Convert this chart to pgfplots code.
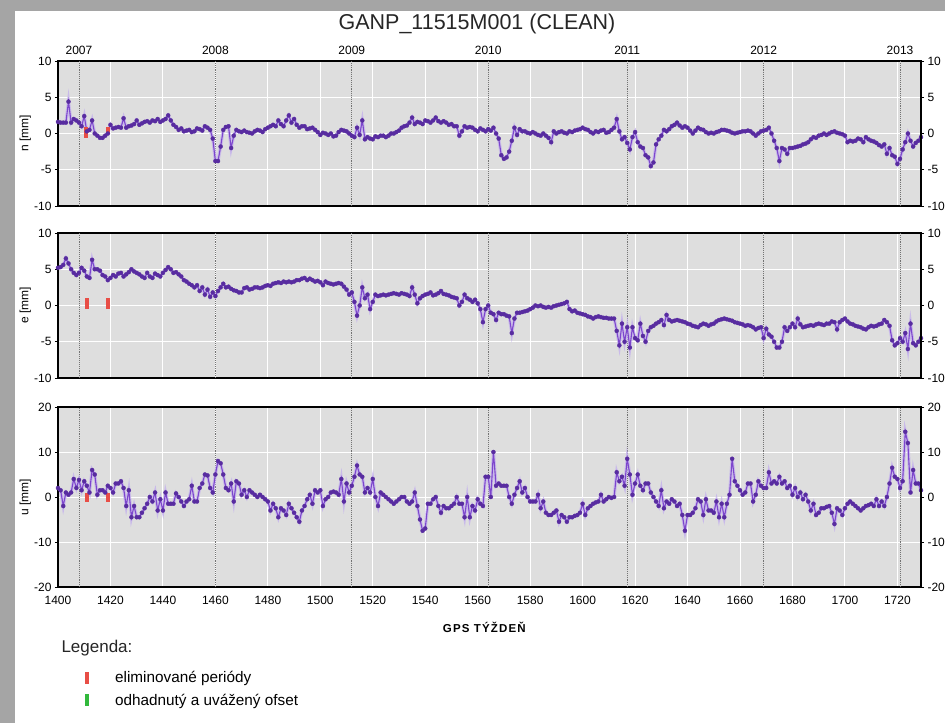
\documentclass[border=0pt]{standalone}
\usepackage{pgfplots}
\usepackage{pgfplotstable}
\pgfplotsset{compat=1.18}
\usepackage{fontspec}
\setmainfont{Liberation Sans}
\definecolor{panelbg}{RGB}{222,222,222}
\definecolor{ln}{RGB}{125,70,205}
\definecolor{mk}{RGB}{88,44,160}
\definecolor{halocol}{RGB}{195,175,238}
\definecolor{elim}{RGB}{232,78,70}
\definecolor{ofs}{RGB}{50,185,60}
\definecolor{framegray}{RGB}{165,165,165}

\pgfplotstableread[row sep=\\]{
x y \\
1400 1.6 \\ 1401 1.5 \\ 1402 1.5 \\ 1403 1.5 \\ 1404 4.4 \\ 1405 1.5 \\ 1406 2.0 \\ 1407 1.8 \\ 1408 1.5 \\ 1409 1.0 \\
1410 2.4 \\ 1411 0.3 \\ 1412 0.5 \\ 1413 1.8 \\ 1414 0 \\ 1415 -0.3 \\ 1416 -0.6 \\ 1417 -0.6 \\ 1418 -0.3 \\ 1419 0 \\
1420 1.2 \\ 1421 0.7 \\ 1422 0.8 \\ 1423 0.9 \\ 1424 0.8 \\ 1425 2.1 \\ 1426 0.8 \\ 1427 1.0 \\ 1428 1.1 \\ 1429 1.3 \\
1430 1.8 \\ 1431 1.2 \\ 1432 1.4 \\ 1433 1.6 \\ 1434 1.7 \\ 1435 1.5 \\ 1436 1.8 \\ 1437 1.7 \\ 1438 2.0 \\ 1439 1.6 \\
1440 1.8 \\ 1441 2.0 \\ 1442 2.5 \\ 1443 1.8 \\ 1444 1.2 \\ 1445 0.9 \\ 1446 0.5 \\ 1447 0.7 \\ 1448 0.3 \\ 1449 0.4 \\
1450 0.5 \\ 1451 0.2 \\ 1452 0.3 \\ 1453 0.7 \\ 1454 0.6 \\ 1455 0.4 \\ 1456 1.0 \\ 1457 0.8 \\ 1458 0.5 \\ 1459 -0.7 \\
1460 -3.8 \\ 1461 -3.8 \\ 1462 -1.8 \\ 1463 0.5 \\ 1464 0.9 \\ 1465 1.0 \\ 1466 -2.0 \\ 1467 -0.3 \\ 1468 0.5 \\ 1469 0.3 \\
1470 0.2 \\ 1471 0.4 \\ 1472 0.2 \\ 1473 0.1 \\ 1474 0 \\ 1475 0.3 \\ 1476 0.5 \\ 1477 0.4 \\ 1478 0.2 \\ 1479 0.6 \\
1480 0.8 \\ 1481 1.0 \\ 1482 1.2 \\ 1483 1.0 \\ 1484 1.8 \\ 1485 1.3 \\ 1486 1.0 \\ 1487 1.8 \\ 1488 2.5 \\ 1489 1.5 \\
1490 2.0 \\ 1491 1.2 \\ 1492 0.8 \\ 1493 1.0 \\ 1494 1.0 \\ 1495 0.6 \\ 1496 0.7 \\ 1497 0.8 \\ 1498 0.5 \\ 1499 0.2 \\
1500 -0.2 \\ 1501 0.1 \\ 1502 0 \\ 1503 -0.2 \\ 1504 0 \\ 1505 -0.4 \\ 1506 -0.3 \\ 1507 0.2 \\ 1508 0.5 \\ 1509 0.4 \\
1510 0.3 \\ 1511 0.0 \\ 1512 -0.3 \\ 1513 -0.5 \\ 1514 0.8 \\ 1515 -0.2 \\ 1516 1.8 \\ 1517 -0.8 \\ 1518 -0.5 \\ 1519 -0.7 \\
1520 -0.8 \\ 1521 -0.4 \\ 1522 -0.5 \\ 1523 -0.3 \\ 1524 -0.3 \\ 1525 -0.5 \\ 1526 -0.3 \\ 1527 0 \\ 1528 0 \\ 1529 0.2 \\
1530 0.4 \\ 1531 0.8 \\ 1532 1.0 \\ 1533 1.1 \\ 1534 1.5 \\ 1535 2.2 \\ 1536 1.3 \\ 1537 1.6 \\ 1538 1.5 \\ 1539 1.3 \\
1540 1.8 \\ 1541 1.7 \\ 1542 1.5 \\ 1543 1.8 \\ 1544 2.2 \\ 1545 1.7 \\ 1546 1.5 \\ 1547 1.7 \\ 1548 1.5 \\ 1549 1.2 \\
1550 1.3 \\ 1551 1.0 \\ 1552 1.0 \\ 1553 -0.3 \\ 1554 0.3 \\ 1555 1.0 \\ 1556 0.8 \\ 1557 0.9 \\ 1558 0.8 \\ 1559 0.5 \\
1560 0.3 \\ 1561 0.7 \\ 1562 0.5 \\ 1563 0.3 \\ 1564 0.6 \\ 1565 0.4 \\ 1566 0.8 \\ 1567 0 \\ 1568 -0.7 \\ 1569 -3.0 \\
1570 -3.5 \\ 1571 -3.3 \\ 1572 -2.5 \\ 1573 -1.0 \\ 1574 0.8 \\ 1575 -0.2 \\ 1576 0.6 \\ 1577 0.3 \\ 1578 0.3 \\ 1579 0.1 \\
1580 0 \\ 1581 0.2 \\ 1582 0 \\ 1583 -0.2 \\ 1584 -0.3 \\ 1585 0 \\ 1586 -0.3 \\ 1587 -0.6 \\ 1588 -1.2 \\ 1589 0.3 \\
1590 0 \\ 1591 0.2 \\ 1592 0.3 \\ 1593 0.1 \\ 1594 0 \\ 1595 0.3 \\ 1596 0.2 \\ 1597 0.4 \\ 1598 0.5 \\ 1599 0.6 \\
1600 0.8 \\ 1601 0.6 \\ 1602 0.5 \\ 1603 0.2 \\ 1604 0 \\ 1605 0.3 \\ 1606 0.2 \\ 1607 0.4 \\ 1608 0.5 \\ 1609 0.1 \\
1610 0.2 \\ 1611 0.5 \\ 1612 0.8 \\ 1613 2.0 \\ 1614 0.3 \\ 1615 -0.8 \\ 1616 -0.5 \\ 1617 -1.3 \\ 1618 -2.2 \\ 1619 -0.5 \\
1620 0.2 \\ 1621 -1.2 \\ 1622 -1.8 \\ 1623 -2.0 \\ 1624 -3.0 \\ 1625 -3.3 \\ 1626 -4.5 \\ 1627 -4.0 \\ 1628 -1.5 \\ 1629 -0.8 \\
1630 -0.3 \\ 1631 0.5 \\ 1632 0.3 \\ 1633 0.6 \\ 1634 1.0 \\ 1635 1.2 \\ 1636 1.5 \\ 1637 1.1 \\ 1638 0.8 \\ 1639 1.0 \\
1640 0.8 \\ 1641 0.4 \\ 1642 0 \\ 1643 0.4 \\ 1644 0.8 \\ 1645 0.6 \\ 1646 0.5 \\ 1647 0.2 \\ 1648 0 \\ 1649 0.1 \\
1650 0 \\ 1651 0.2 \\ 1652 0.3 \\ 1653 0.5 \\ 1654 0.5 \\ 1655 0.4 \\ 1656 0.3 \\ 1657 0.1 \\ 1658 0 \\ 1659 0.1 \\
1660 0.2 \\ 1661 0.3 \\ 1662 0.3 \\ 1663 0.4 \\ 1664 0.3 \\ 1665 0 \\ 1666 -0.3 \\ 1667 0 \\ 1668 0.3 \\ 1669 0.4 \\
1670 0.5 \\ 1671 0.8 \\ 1672 0 \\ 1673 -1.0 \\ 1674 -2.0 \\ 1675 -3.8 \\ 1676 -2.0 \\ 1677 -2.2 \\ 1678 -2.8 \\ 1679 -2.0 \\
1680 -2.0 \\ 1681 -1.9 \\ 1682 -1.8 \\ 1683 -1.7 \\ 1684 -1.5 \\ 1685 -1.4 \\ 1686 -1.2 \\ 1687 -0.8 \\ 1688 -0.5 \\ 1689 -0.6 \\
1690 -0.3 \\ 1691 -0.2 \\ 1692 0 \\ 1693 -0.2 \\ 1694 0 \\ 1695 0.2 \\ 1696 0.3 \\ 1697 0.1 \\ 1698 0 \\ 1699 -0.1 \\
1700 -0.3 \\ 1701 -1.2 \\ 1702 -1.0 \\ 1703 -1.1 \\ 1704 -1.0 \\ 1705 -0.7 \\ 1706 -0.8 \\ 1707 -1.2 \\ 1708 -0.5 \\ 1709 -0.8 \\
1710 -1.0 \\ 1711 -1.1 \\ 1712 -1.3 \\ 1713 -1.6 \\ 1714 -1.8 \\ 1715 -1.5 \\ 1716 -2.8 \\ 1717 -2.0 \\ 1718 -3.0 \\ 1719 -3.2 \\
1720 -4.2 \\ 1721 -3.5 \\ 1722 -2.2 \\ 1723 -1.2 \\ 1724 0 \\ 1725 -1.0 \\ 1726 -1.8 \\ 1727 -1.3 \\ 1728 -1.0 \\ 1729 -0.5 \\
}\ndata

\pgfplotstableread[row sep=\\]{
x y \\
1400 5.2 \\ 1401 5.3 \\ 1402 5.6 \\ 1403 6.5 \\ 1404 5.8 \\ 1405 5.0 \\ 1406 4.5 \\ 1407 4.2 \\ 1408 4.5 \\ 1409 5.2 \\
1410 4.8 \\ 1411 4.0 \\ 1412 3.8 \\ 1413 6.3 \\ 1414 5.0 \\ 1415 5.0 \\ 1416 4.8 \\ 1417 4.2 \\ 1418 4.0 \\ 1419 3.5 \\
1420 3.8 \\ 1421 4.2 \\ 1422 4.0 \\ 1423 4.4 \\ 1424 4.5 \\ 1425 4.0 \\ 1426 4.3 \\ 1427 4.6 \\ 1428 5.0 \\ 1429 4.7 \\
1430 4.5 \\ 1431 4.3 \\ 1432 4.0 \\ 1433 3.8 \\ 1434 4.5 \\ 1435 4.0 \\ 1436 3.8 \\ 1437 4.4 \\ 1438 4.2 \\ 1439 4.0 \\
1440 4.5 \\ 1441 4.9 \\ 1442 5.3 \\ 1443 5.0 \\ 1444 4.5 \\ 1445 4.6 \\ 1446 4.3 \\ 1447 4.0 \\ 1448 3.5 \\ 1449 3.3 \\
1450 3.0 \\ 1451 2.8 \\ 1452 2.5 \\ 1453 2.8 \\ 1454 2.0 \\ 1455 2.5 \\ 1456 1.5 \\ 1457 2.2 \\ 1458 1.2 \\ 1459 1.8 \\
1460 1.3 \\ 1461 2.0 \\ 1462 2.5 \\ 1463 3.0 \\ 1464 2.5 \\ 1465 2.6 \\ 1466 2.3 \\ 1467 2.1 \\ 1468 2.0 \\ 1469 1.8 \\
1470 1.8 \\ 1471 2.4 \\ 1472 2.5 \\ 1473 2.2 \\ 1474 2.3 \\ 1475 2.5 \\ 1476 2.5 \\ 1477 2.4 \\ 1478 2.5 \\ 1479 2.7 \\
1480 2.8 \\ 1481 2.7 \\ 1482 3.0 \\ 1483 3.1 \\ 1484 3.2 \\ 1485 3.1 \\ 1486 3.3 \\ 1487 3.2 \\ 1488 3.3 \\ 1489 3.2 \\
1490 3.3 \\ 1491 3.5 \\ 1492 3.5 \\ 1493 3.7 \\ 1494 3.8 \\ 1495 3.5 \\ 1496 3.7 \\ 1497 3.5 \\ 1498 3.3 \\ 1499 3.4 \\
1500 3.2 \\ 1501 2.8 \\ 1502 3.3 \\ 1503 3.1 \\ 1504 3.0 \\ 1505 2.9 \\ 1506 3.0 \\ 1507 3.1 \\ 1508 3.0 \\ 1509 2.6 \\
1510 2.2 \\ 1511 1.5 \\ 1512 1.8 \\ 1513 0.5 \\ 1514 -1.4 \\ 1515 0 \\ 1516 2.5 \\ 1517 1.0 \\ 1518 1.5 \\ 1519 -0.5 \\
1520 0.5 \\ 1521 1.5 \\ 1522 1.3 \\ 1523 1.4 \\ 1524 1.5 \\ 1525 1.4 \\ 1526 1.5 \\ 1527 1.6 \\ 1528 1.7 \\ 1529 1.6 \\
1530 1.5 \\ 1531 1.7 \\ 1532 1.6 \\ 1533 1.5 \\ 1534 1.3 \\ 1535 2.5 \\ 1536 1.5 \\ 1537 0.3 \\ 1538 1.0 \\ 1539 1.3 \\
1540 1.5 \\ 1541 1.6 \\ 1542 1.8 \\ 1543 1.4 \\ 1544 1.5 \\ 1545 1.7 \\ 1546 2.0 \\ 1547 1.6 \\ 1548 1.5 \\ 1549 1.4 \\
1550 1.2 \\ 1551 1.1 \\ 1552 1.0 \\ 1553 0 \\ 1554 0.5 \\ 1555 1.5 \\ 1556 1.0 \\ 1557 0.8 \\ 1558 0.5 \\ 1559 0.8 \\
1560 0.3 \\ 1561 -0.5 \\ 1562 -2.3 \\ 1563 -0.5 \\ 1564 0 \\ 1565 -1.0 \\ 1566 -1.2 \\ 1567 -2.0 \\ 1568 -1.0 \\ 1569 -1.2 \\
1570 -1.2 \\ 1571 -1.4 \\ 1572 -1.5 \\ 1573 -3.8 \\ 1574 -1.8 \\ 1575 -1.0 \\ 1576 -1.0 \\ 1577 -0.9 \\ 1578 -0.8 \\ 1579 -0.7 \\
1580 -0.5 \\ 1581 -0.3 \\ 1582 0 \\ 1583 -0.1 \\ 1584 0 \\ 1585 -0.2 \\ 1586 -0.3 \\ 1587 -0.2 \\ 1588 -0.3 \\ 1589 -0.1 \\
1590 0 \\ 1591 0.1 \\ 1592 0.2 \\ 1593 0.3 \\ 1594 0.5 \\ 1595 -0.5 \\ 1596 -0.8 \\ 1597 -0.7 \\ 1598 -1.0 \\ 1599 -1.1 \\
1600 -1.2 \\ 1601 -1.3 \\ 1602 -1.5 \\ 1603 -1.6 \\ 1604 -1.8 \\ 1605 -1.6 \\ 1606 -1.5 \\ 1607 -1.6 \\ 1608 -1.7 \\ 1609 -1.7 \\
1610 -1.8 \\ 1611 -1.8 \\ 1612 -1.8 \\ 1613 -3.5 \\ 1614 -5.5 \\ 1615 -2.5 \\ 1616 -5.0 \\ 1617 -3.0 \\ 1618 -5.8 \\ 1619 -3.0 \\
1620 -4.5 \\ 1621 -4.8 \\ 1622 -2.5 \\ 1623 -4.2 \\ 1624 -5.0 \\ 1625 -3.5 \\ 1626 -3.0 \\ 1627 -2.8 \\ 1628 -2.5 \\ 1629 -2.3 \\
1630 -2.0 \\ 1631 -2.7 \\ 1632 -1.3 \\ 1633 -2.0 \\ 1634 -2.2 \\ 1635 -2.1 \\ 1636 -2.0 \\ 1637 -2.1 \\ 1638 -2.2 \\ 1639 -2.3 \\
1640 -2.5 \\ 1641 -2.6 \\ 1642 -2.8 \\ 1643 -2.9 \\ 1644 -3.0 \\ 1645 -2.7 \\ 1646 -2.5 \\ 1647 -2.6 \\ 1648 -2.8 \\ 1649 -2.6 \\
1650 -2.5 \\ 1651 -2.2 \\ 1652 -2.0 \\ 1653 -1.9 \\ 1654 -1.8 \\ 1655 -1.9 \\ 1656 -2.0 \\ 1657 -2.1 \\ 1658 -2.3 \\ 1659 -2.4 \\
1660 -2.5 \\ 1661 -2.6 \\ 1662 -2.8 \\ 1663 -2.7 \\ 1664 -2.8 \\ 1665 -3.0 \\ 1666 -3.3 \\ 1667 -3.1 \\ 1668 -3.0 \\ 1669 -4.5 \\
1670 -3.2 \\ 1671 -4.0 \\ 1672 -4.3 \\ 1673 -5.0 \\ 1674 -5.8 \\ 1675 -5.8 \\ 1676 -5.0 \\ 1677 -3.0 \\ 1678 -3.5 \\ 1679 -3.0 \\
1680 -2.5 \\ 1681 -3.0 \\ 1682 -1.8 \\ 1683 -2.6 \\ 1684 -3.0 \\ 1685 -2.9 \\ 1686 -2.8 \\ 1687 -2.7 \\ 1688 -2.8 \\ 1689 -2.6 \\
1690 -2.5 \\ 1691 -2.6 \\ 1692 -2.7 \\ 1693 -2.5 \\ 1694 -2.5 \\ 1695 -2.2 \\ 1696 -2.3 \\ 1697 -3.3 \\ 1698 -2.3 \\ 1699 -2.0 \\
1700 -1.8 \\ 1701 -2.2 \\ 1702 -2.5 \\ 1703 -2.6 \\ 1704 -2.8 \\ 1705 -2.9 \\ 1706 -3.0 \\ 1707 -3.2 \\ 1708 -3.3 \\ 1709 -3.0 \\
1710 -2.8 \\ 1711 -2.9 \\ 1712 -2.8 \\ 1713 -2.6 \\ 1714 -2.5 \\ 1715 -2.0 \\ 1716 -2.3 \\ 1717 -2.8 \\ 1718 -4.8 \\ 1719 -5.5 \\
1720 -5.2 \\ 1721 -4.5 \\ 1722 -5.0 \\ 1723 -3.8 \\ 1724 -6.0 \\ 1725 -2.5 \\ 1726 -5.2 \\ 1727 -5.5 \\ 1728 -5.0 \\ 1729 -4.5 \\
}\edata

\pgfplotstableread[row sep=\\]{
x y \\
1400 2.0 \\ 1401 1.5 \\ 1402 -2.0 \\ 1403 1.0 \\ 1404 0.5 \\ 1405 1.0 \\ 1406 4.0 \\ 1407 2.0 \\ 1408 3.8 \\ 1409 1.5 \\
1410 3.5 \\ 1411 2.5 \\ 1412 1.0 \\ 1413 6.0 \\ 1414 5.0 \\ 1415 0.5 \\ 1416 1.5 \\ 1417 1.5 \\ 1418 1.0 \\ 1419 2.5 \\
1420 2.0 \\ 1421 1.0 \\ 1422 3.0 \\ 1423 3.0 \\ 1424 3.5 \\ 1425 2.0 \\ 1426 -2.0 \\ 1427 1.5 \\ 1428 -4.5 \\ 1429 -2.0 \\
1430 -4.5 \\ 1431 -4.5 \\ 1432 -3.5 \\ 1433 -2.5 \\ 1434 -1.5 \\ 1435 0 \\ 1436 -1.0 \\ 1437 1.0 \\ 1438 -3.0 \\ 1439 -0.5 \\
1440 -3.0 \\ 1441 1.0 \\ 1442 -1.5 \\ 1443 -1.5 \\ 1444 -1.5 \\ 1445 0.8 \\ 1446 0 \\ 1447 -1.0 \\ 1448 -2.0 \\ 1449 -1.0 \\
1450 -0.5 \\ 1451 2.5 \\ 1452 -1.0 \\ 1453 -1.0 \\ 1454 2.0 \\ 1455 3.0 \\ 1456 5.0 \\ 1457 4.8 \\ 1458 2.0 \\ 1459 1.0 \\
1460 5.0 \\ 1461 8.0 \\ 1462 7.5 \\ 1463 5.0 \\ 1464 2.0 \\ 1465 1.5 \\ 1466 3.0 \\ 1467 -1.0 \\ 1468 3.5 \\ 1469 3.0 \\
1470 0.5 \\ 1471 1.5 \\ 1472 0.0 \\ 1473 1.5 \\ 1474 1.0 \\ 1475 0.5 \\ 1476 0 \\ 1477 0.5 \\ 1478 0 \\ 1479 -0.5 \\
1480 -1.0 \\ 1481 -3.0 \\ 1482 -1.5 \\ 1483 -2.5 \\ 1484 -4.5 \\ 1485 -2.5 \\ 1486 -3.0 \\ 1487 -4.0 \\ 1488 -1.5 \\ 1489 -2.5 \\
1490 -3.5 \\ 1491 -4.5 \\ 1492 -5.5 \\ 1493 -3.0 \\ 1494 -2.0 \\ 1495 -0.5 \\ 1496 0.5 \\ 1497 -1.5 \\ 1498 1.5 \\ 1499 1.0 \\
1500 1.5 \\ 1501 -2.0 \\ 1502 -0.5 \\ 1503 0 \\ 1504 1.0 \\ 1505 1.2 \\ 1506 1.0 \\ 1507 0.5 \\ 1508 4.0 \\ 1509 -1.0 \\
1510 3.0 \\ 1511 1.0 \\ 1512 2.5 \\ 1513 4.5 \\ 1514 7.0 \\ 1515 5.0 \\ 1516 4.5 \\ 1517 1.0 \\ 1518 2.0 \\ 1519 1.0 \\
1520 4.0 \\ 1521 0 \\ 1522 -2.0 \\ 1523 1.0 \\ 1524 0.5 \\ 1525 0 \\ 1526 -0.5 \\ 1527 -1.0 \\ 1528 -1.5 \\ 1529 -1.0 \\
1530 -0.5 \\ 1531 0 \\ 1532 0 \\ 1533 -1.0 \\ 1534 -1.5 \\ 1535 -1.0 \\ 1536 1.0 \\ 1537 -2.0 \\ 1538 -5.0 \\ 1539 -7.5 \\
1540 -7.0 \\ 1541 -1.5 \\ 1542 -1.5 \\ 1543 -0.5 \\ 1544 0 \\ 1545 -2.0 \\ 1546 -3.5 \\ 1547 -2.0 \\ 1548 -2.5 \\ 1549 -2.5 \\
1550 -2.0 \\ 1551 -1.5 \\ 1552 0 \\ 1553 -1.5 \\ 1554 -1.5 \\ 1555 -4.5 \\ 1556 0 \\ 1557 -4.5 \\ 1558 -2.0 \\ 1559 -3.0 \\
1560 -0.5 \\ 1561 -1.5 \\ 1562 -2.0 \\ 1563 4.5 \\ 1564 4.5 \\ 1565 0 \\ 1566 10.0 \\ 1567 2.5 \\ 1568 3.0 \\ 1569 2.5 \\
1570 2.5 \\ 1571 2.5 \\ 1572 0 \\ 1573 -1.5 \\ 1574 0.5 \\ 1575 2.0 \\ 1576 3.5 \\ 1577 1.0 \\ 1578 2.0 \\ 1579 0 \\
1580 -1.0 \\ 1581 -1.0 \\ 1582 -1.0 \\ 1583 0.5 \\ 1584 -2.5 \\ 1585 -1.0 \\ 1586 -3.5 \\ 1587 -4.0 \\ 1588 -4.0 \\ 1589 -3.5 \\
1590 -3.0 \\ 1591 -5.5 \\ 1592 -4.0 \\ 1593 -4.5 \\ 1594 -5.5 \\ 1595 -4.5 \\ 1596 -4.5 \\ 1597 -4.2 \\ 1598 -4.0 \\ 1599 -3.5 \\
1600 -1.5 \\ 1601 -4.0 \\ 1602 -2.5 \\ 1603 -2.0 \\ 1604 -1.5 \\ 1605 -1.2 \\ 1606 -1.0 \\ 1607 0.5 \\ 1608 -1.0 \\ 1609 -0.5 \\
1610 0 \\ 1611 -0.2 \\ 1612 0 \\ 1613 5.5 \\ 1614 3.5 \\ 1615 4.5 \\ 1616 2.5 \\ 1617 8.5 \\ 1618 5.0 \\ 1619 0.5 \\
1620 3.0 \\ 1621 5.0 \\ 1622 2.5 \\ 1623 1.5 \\ 1624 3.0 \\ 1625 3.0 \\ 1626 1.0 \\ 1627 0 \\ 1628 -1.0 \\ 1629 -2.0 \\
1630 1.5 \\ 1631 -2.5 \\ 1632 -1.0 \\ 1633 -1.5 \\ 1634 -0.5 \\ 1635 -1.0 \\ 1636 -2.0 \\ 1637 -1.5 \\ 1638 -4.0 \\ 1639 -7.5 \\
1640 -4.0 \\ 1641 -4.0 \\ 1642 -3.5 \\ 1643 -2.5 \\ 1644 -0.5 \\ 1645 -1.0 \\ 1646 -4.0 \\ 1647 -0.5 \\ 1648 -3.0 \\ 1649 -3.0 \\
1650 -3.5 \\ 1651 -1.0 \\ 1652 -4.5 \\ 1653 -1.5 \\ 1654 -4.5 \\ 1655 -1.5 \\ 1656 0.5 \\ 1657 8.5 \\ 1658 3.5 \\ 1659 2.5 \\
1660 1.5 \\ 1661 0.5 \\ 1662 1.0 \\ 1663 3.0 \\ 1664 3.0 \\ 1665 -1.0 \\ 1666 0.5 \\ 1667 3.5 \\ 1668 2.5 \\ 1669 2.0 \\
1670 2.0 \\ 1671 5.5 \\ 1672 3.0 \\ 1673 3.5 \\ 1674 3.0 \\ 1675 4.5 \\ 1676 3.0 \\ 1677 3.5 \\ 1678 2.0 \\ 1679 2.5 \\
1680 0.5 \\ 1681 2.0 \\ 1682 0 \\ 1683 1.0 \\ 1684 -0.5 \\ 1685 0.5 \\ 1686 -1.0 \\ 1687 -3.0 \\ 1688 -1.5 \\ 1689 -4.0 \\
1690 -3.5 \\ 1691 -2.5 \\ 1692 -2.5 \\ 1693 -2.2 \\ 1694 -2.0 \\ 1695 -3.5 \\ 1696 -6.0 \\ 1697 -2.5 \\ 1698 -3.0 \\ 1699 -4.0 \\
1700 -2.5 \\ 1701 -1.5 \\ 1702 -1.0 \\ 1703 -1.5 \\ 1704 -2.0 \\ 1705 -2.5 \\ 1706 -3.0 \\ 1707 -2.5 \\ 1708 -2.0 \\ 1709 -1.8 \\
1710 -1.5 \\ 1711 -2.0 \\ 1712 -0.5 \\ 1713 -2.0 \\ 1714 -1.0 \\ 1715 -2.0 \\ 1716 0 \\ 1717 3.0 \\ 1718 6.5 \\ 1719 4.5 \\
1720 4.0 \\ 1721 2.0 \\ 1722 3.5 \\ 1723 14.5 \\ 1724 12.0 \\ 1725 1.0 \\ 1726 6.0 \\ 1727 3.0 \\ 1728 3.0 \\ 1729 1.5 \\
}\udata

\newcommand{\tfont}{\fontsize{12bp}{14bp}\selectfont}
\pgfplotsset{
  panel/.style={
    scale only axis, width=863bp, xmin=1400, xmax=1729,
    axis background/.style={fill=panelbg},
    axis line style={black, line width=1.1bp},
    xtick={1400,1420,...,1720},
    xmajorgrids, ymajorgrids,
    major grid style={white, line width=0.9bp},
    extra x ticks={1408,1460,1512,1564,1617,1669,1721},
    xtick style={draw=none},
    ytick pos=left, tick align=outside,
    ytick style={black, line width=0.8bp}, major tick length=3bp,
    /pgf/number format/assume math mode=true,
    /pgf/number format/1000 sep={},
    tick label style={font=\tfont, black},
    every axis y label/.style={at={(axis description cs:-0.038,0.5)}, rotate=90, anchor=center, font=\tfont},
  },
  rightlab/.style={
    scale only axis, width=863bp, xmin=1400, xmax=1729,
    axis x line=none, axis y line*=right,
    y axis line style={black, line width=1.1bp},
    tick align=outside, ytick style={black, line width=0.8bp}, major tick length=3bp,
    /pgf/number format/assume math mode=true,
    tick label style={font=\tfont, black},
  },
  halostyle/.style={halocol, line width=3.2bp, opacity=0.75, forget plot},
  series/.style={ln, line width=1.1bp, mark=*, mark size=2.05bp, mark options={fill=mk, draw=mk, line width=0.3bp}, forget plot},
  elimbar/.style={elim, line width=4bp, forget plot},
  yeargrid/.style={grid=major, major grid style={black!55, densely dotted, line width=0.8bp}, tick style={draw=none}},
}

\begin{document}
\begin{tikzpicture}
\useasboundingbox (0,0) rectangle (945bp,-723bp);
\fill[framegray] (0,0) rectangle (945bp,-723bp);
\fill[white] (15bp,-11bp) rectangle (945bp,-723bp);
\node[font=\fontsize{21.5bp}{24bp}\selectfont, text=black!85] at (477bp,-24bp) {GANP\_11515M001 (CLEAN)};

% ---------- n panel
\begin{axis}[panel, at={(58bp,-61bp)}, anchor=north west, height=145bp,
  ymin=-10, ymax=10, ytick={-10,-5,0,5,10},
  xticklabels={}, xticklabel pos=right,
  extra x tick labels={2007,2008,2009,2010,2011,2012,2013},
  extra x tick style={yeargrid, xticklabel style={yshift=0bp}},
  ylabel={n [mm]}]
\addplot[halostyle] table[x=x,y=y]{\ndata};
\addplot[series] table[x=x,y=y]{\ndata};
\addplot[elimbar] coordinates {(1410.6,-0.6) (1410.6,0.9)};
\addplot[elimbar] coordinates {(1419,-0.1) (1419,0.9)};
\end{axis}
\begin{axis}[rightlab, at={(58bp,-61bp)}, anchor=north west, height=145bp,
  ymin=-10, ymax=10, ytick={-10,-5,0,5,10}]
\end{axis}

% ---------- e panel
\begin{axis}[panel, at={(58bp,-233bp)}, anchor=north west, height=145bp,
  ymin=-10, ymax=10, ytick={-10,-5,0,5,10},
  xticklabels={}, extra x tick labels={},
  extra x tick style={yeargrid},
  ylabel={e [mm]}]
\addplot[halostyle] table[x=x,y=y]{\edata};
\addplot[series] table[x=x,y=y]{\edata};
\addplot[elimbar] coordinates {(1411,-0.5) (1411,1.0)};
\addplot[elimbar] coordinates {(1419,-0.5) (1419,1.0)};
\end{axis}
\begin{axis}[rightlab, at={(58bp,-233bp)}, anchor=north west, height=145bp,
  ymin=-10, ymax=10, ytick={-10,-5,0,5,10}]
\end{axis}

% ---------- u panel
\begin{axis}[panel, at={(58bp,-407bp)}, anchor=north west, height=180bp,
  ymin=-20, ymax=20, ytick={-20,-10,0,10,20},
  extra x tick labels={},
  extra x tick style={yeargrid},
  xticklabel style={yshift=-3bp},
  ylabel={u [mm]},
  xlabel={\fontsize{11.5bp}{13bp}\selectfont\bfseries\addfontfeature{LetterSpace=10}GPS TÝŽDEŇ},
  xlabel style={at={(axis description cs:0.494,0)}, anchor=center, yshift=-40bp},
  legend style={at={(axis description cs:0,0)}, anchor=north west, xshift=27bp, yshift=-82bp,
    draw=none, fill=none, inner sep=0pt, row sep=6bp,
    font=\fontsize{15.3bp}{17bp}\selectfont, cells={anchor=west}},
  legend image code/.code={\fill[#1, draw=none] (0bp,-6bp) rectangle (4bp,6bp); \path[draw=none, fill=none] (0bp,0bp) -- (28bp,0bp);}]
\addplot[halostyle] table[x=x,y=y]{\udata};
\addplot[series] table[x=x,y=y]{\udata};
\addplot[elimbar] coordinates {(1411,-1) (1411,1)};
\addplot[elimbar] coordinates {(1419,-1) (1419,1)};
\addlegendimage{elim}
\addlegendentry{eliminované periódy}
\addlegendimage{ofs}
\addlegendentry{odhadnutý a uvážený ofset}
\end{axis}
\begin{axis}[rightlab, at={(58bp,-407bp)}, anchor=north west, height=180bp,
  ymin=-20, ymax=20, ytick={-20,-10,0,10,20}]
\end{axis}

\node[anchor=west, font=\fontsize{17bp}{19bp}\selectfont, text=black!85] at (58bp,-648bp) {Legenda:};
\end{tikzpicture}
\end{document}
